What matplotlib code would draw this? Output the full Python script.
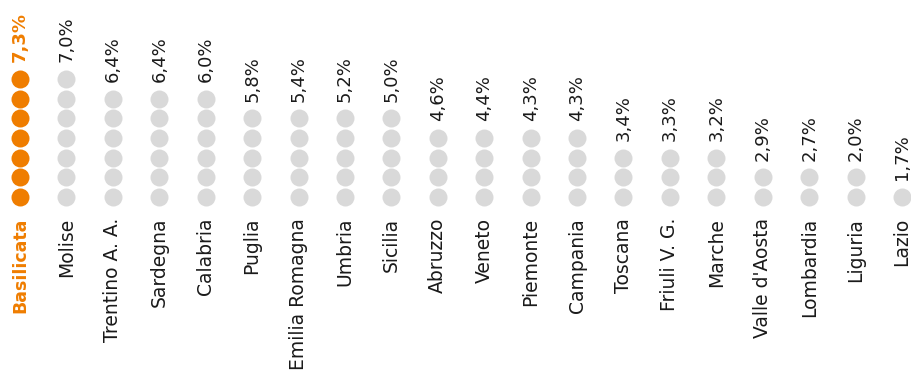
import matplotlib.pyplot as plt
import numpy as np

regions = ["Basilicata", "Molise", "Trentino A. A.", "Sardegna", "Calabria",
           "Puglia", "Emilia Romagna", "Umbria", "Sicilia", "Abruzzo",
           "Veneto", "Piemonte", "Campania", "Toscana", "Friuli V. G.",
           "Marche", "Valle d'Aosta", "Lombardia", "Liguria", "Lazio"]
values = [7.3, 7.0, 6.4, 6.4, 6.0,
          5.8, 5.4, 5.2, 5.0, 4.6,
          4.4, 4.3, 4.3, 3.4, 3.3,
          3.2, 2.9, 2.7, 2.0, 1.7]
highlight = "Basilicata"

orange = "#EF7D00"
grey = "#D9D9D9"
text_col = "#1a1a1a"

plt.rcParams["font.family"] = ["DejaVu Sans"]

fig = plt.figure(figsize=(9.12, 3.71), dpi=100)
ax = fig.add_axes([0, 0, 1, 1])
ax.set_xlim(-0.431, 19.216)
ax.set_ylim(-8.855, 10.025)
ax.axis("off")

for i, (name, val) in enumerate(zip(regions, values)):
    n = int(np.floor(val))
    hot = name == highlight
    col = orange if hot else grey
    weight = "bold" if hot else "normal"
    tcol = orange if hot else text_col

    ax.scatter(np.full(n, i), np.arange(n), s=168, color=col, linewidths=0, zorder=2)

    # value above the stack
    ax.annotate(f"{val:.1f}%".replace(".", ","), (i, n - 1), xytext=(0, 12),
                textcoords="offset points", rotation=90, ha="center", va="bottom",
                fontsize=13, color=tcol, fontweight=weight)
    # region name below the stack
    ax.annotate(name, (i, 0), xytext=(0, -15), textcoords="offset points",
                rotation=90, ha="center", va="top",
                fontsize=12.5 if hot else 13.5,
                color=tcol, fontweight=weight)

fig.savefig("out.png", dpi=100)
